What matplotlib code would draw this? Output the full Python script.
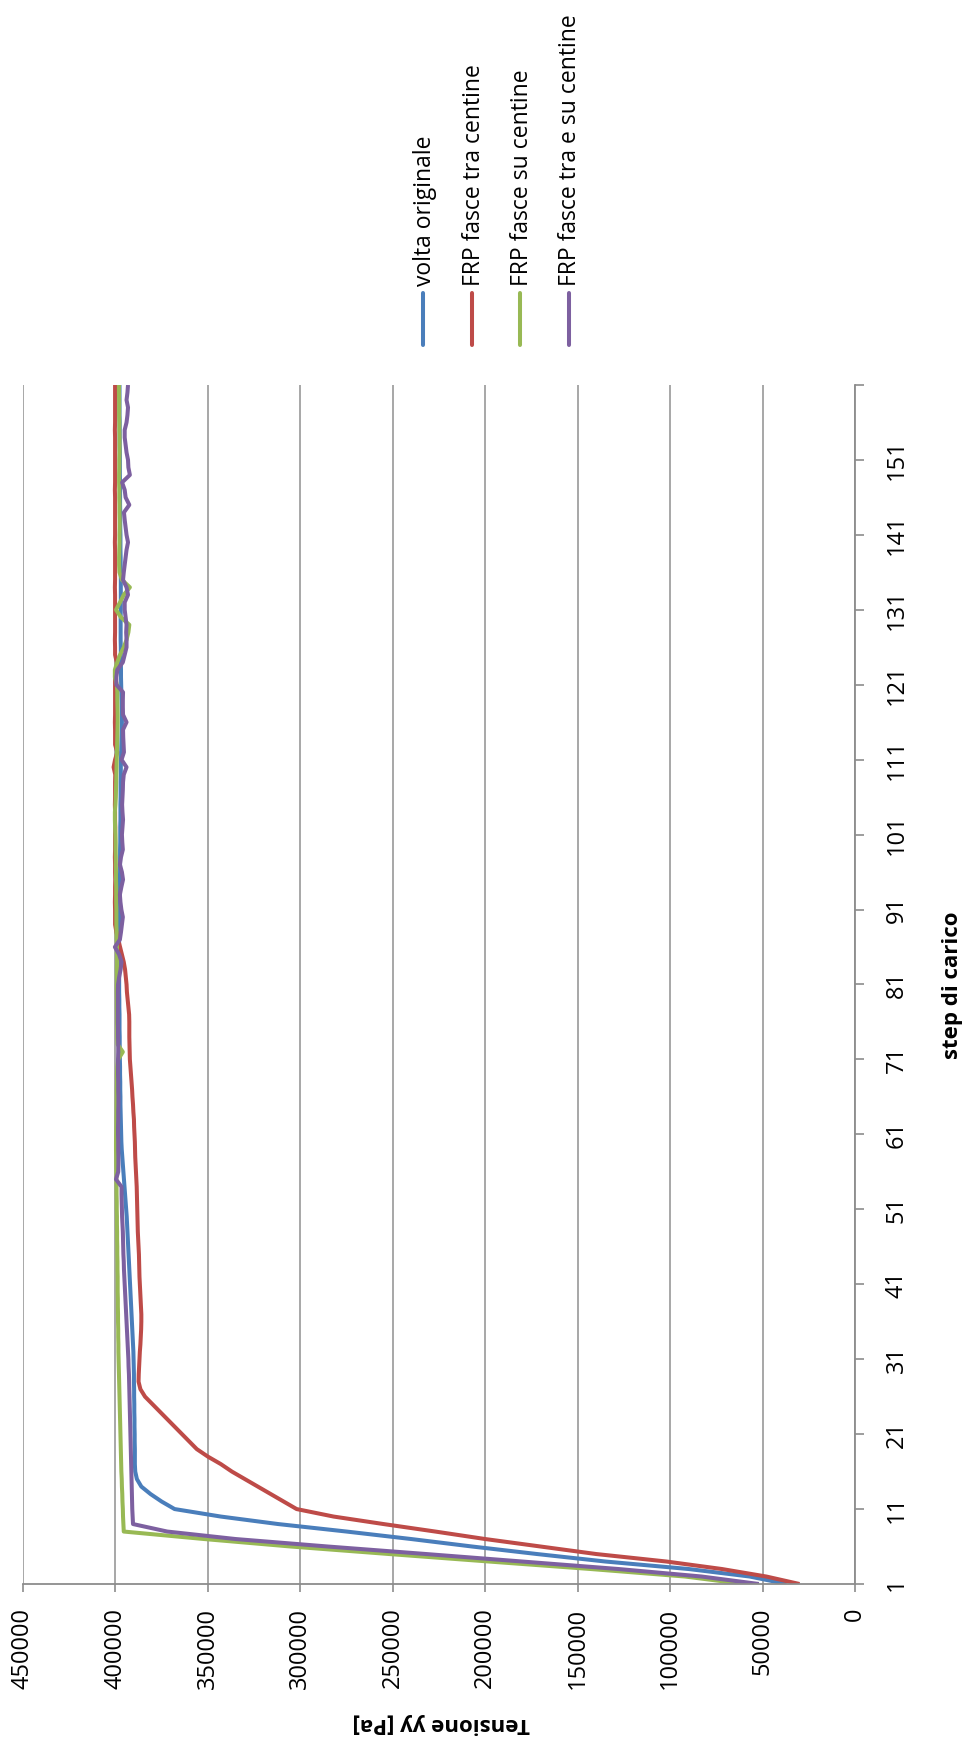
import matplotlib
matplotlib.use("Agg")
import matplotlib.pyplot as plt
from matplotlib.lines import Line2D
from matplotlib.ticker import FixedLocator

plt.rcParams['font.family'] = ['Open Sans', 'DejaVu Sans']

# load steps (categories)
steps = list(range(1, 162))

volta_originale = [
    37000, 57000, 90000, 135000, 172000, 207000, 240000, 275000, 312000, 343000,
    368000, 375000, 381000, 386000, 388400, 389300, 389500, 389500, 389500, 389600,
    389600, 389700, 389700, 389800, 389800, 389900, 389900, 390000, 390000, 390100,
    390200, 390300, 390500, 390700, 390900, 391100, 391300, 391500, 391700, 391900,
    392100, 392300, 392500, 392700, 392900, 393100, 393300, 393500, 393700, 393900,
    394200, 394500, 394800, 395100, 395400, 395700, 396000, 396300, 396600, 396800,
    396900, 397000, 397100, 397200, 397300, 397300, 397400, 397400, 397500, 397500,
    397600, 397600, 397700, 397700, 397800, 397800, 397800, 397900, 397900, 398000,
    398000, 398000, 398000, 398100, 398100, 398100, 398000, 397900, 397800, 397800,
    397700, 397700, 397600, 397600, 397600, 397500, 397500, 397500, 397500, 397400,
    397400, 397400, 397300, 397300, 397300, 397200, 397200, 397200, 397100, 397100,
    397000, 396900, 396800, 396700, 396600, 396500, 396500, 396600, 396700, 396800,
    396900, 397000, 397000, 397100, 397100, 397100, 397200, 397200, 397200, 397200,
    397100, 397100, 397100, 397100, 397100, 397100, 397200, 397200, 397300, 397300,
    397300, 397400, 397400, 397400, 397500, 397500, 397500, 397500, 397600, 397600,
    397600, 397600, 397700, 397700, 397700, 397700, 397800, 397800, 397800, 397800,
    397800,
]

frp_tra_centine = [
    30000, 48000, 72000, 102000, 140000, 170000, 200000, 227000, 255000, 282000,
    302000, 309000, 316000, 323000, 330000, 337000, 343000, 350000, 356000, 360000,
    364000, 368000, 372000, 376000, 380000, 384000, 386500, 387500, 387400, 387200,
    387000, 386800, 386500, 386300, 386100, 386000, 386000, 386200, 386400, 386600,
    386800, 387000, 387100, 387200, 387300, 387500, 387700, 387900, 388000, 388100,
    388200, 388300, 388400, 388500, 388700, 388900, 389100, 389300, 389400, 389500,
    389700, 389900, 390000, 390300, 390500, 390800, 391000, 391300, 391600, 391900,
    392200, 392300, 392400, 392500, 392500, 392500, 392600, 393000, 393400, 393800,
    394000, 394400, 394800, 395500, 396500, 397500, 398500, 399500, 400200, 400200,
    400200, 400300, 400200, 400200, 400100, 400200, 400200, 400300, 400200, 400200,
    400200, 400100, 400200, 400200, 400300, 400200, 400200, 400200, 400100, 401000,
    400200, 399000, 400200, 400200, 400200, 400300, 400200, 400200, 400200, 400200,
    400200, 400200, 399000, 399300, 400200, 400200, 400300, 400200, 400200, 400200,
    400200, 400200, 400200, 400300, 400200, 400200, 400200, 400200, 400200, 400300,
    400200, 400200, 400200, 400200, 400200, 400200, 400300, 400200, 400200, 400200,
    400200, 400200, 400200, 400200, 400300, 400200, 400200, 400200, 400200, 400200,
    400200,
]

frp_su_centine = [
    60000, 92000, 143000, 198000, 252000, 305000, 352000, 395500, 395700, 395900,
    396000, 396200, 396300, 396500, 396600, 396800, 396900, 397000, 397100, 397200,
    397300, 397400, 397500, 397600, 397700, 397800, 397900, 398000, 398100, 398200,
    398300, 398400, 398400, 398500, 398500, 398600, 398600, 398700, 398700, 398800,
    398800, 398800, 398900, 398900, 399000, 399000, 399100, 399100, 399200, 399200,
    399300, 399300, 399400, 399400, 399500, 399500, 399600, 399600, 399700, 399700,
    399600, 399500, 399500, 399400, 399400, 399300, 399300, 399200, 399200, 399000,
    398500, 396000, 398800, 399000, 399000, 399100, 399100, 399200, 399200, 399300,
    399300, 399200, 399200, 399100, 399100, 399200, 399300, 399400, 399500, 399500,
    399500, 399600, 399600, 399600, 399700, 399700, 399800, 399800, 399900, 399900,
    400000, 400200, 400300, 400300, 400000, 399800, 399700, 399600, 399500, 399400,
    399300, 399200, 399100, 399000, 398900, 398800, 398800, 398900, 399000, 399000,
    399200, 400300, 400300, 399000, 397500, 395500, 394000, 393000, 392500, 397000,
    399700, 397500, 395500, 392200, 396500, 397800, 398000, 398000, 397900, 397800,
    397800, 397700, 397700, 397800, 397800, 397900, 397900, 398000, 398000, 397900,
    397900, 397800, 397800, 397800, 397900, 397900, 398000, 398000, 398000, 398100,
    398100,
]

frp_tra_su_centine = [
    52000, 83000, 128000, 180000, 232000, 285000, 335000, 372000, 390500, 390700,
    390900, 391000, 391100, 391200, 391300, 391400, 391500, 391600, 391700, 391800,
    391900, 392000, 392100, 392200, 392300, 392400, 392500, 392600, 392700, 392900,
    393000, 393200, 393400, 393600, 393800, 394000, 394200, 394400, 394600, 394800,
    395000, 395200, 395400, 395500, 395700, 395800, 395900, 396000, 396200, 396400,
    396500, 396600, 396700, 396700, 399700, 398500, 398400, 398400, 398500, 398500,
    398600, 398600, 398500, 398500, 398400, 398400, 398500, 398500, 398600, 398600,
    398600, 398500, 398500, 398600, 398600, 398700, 398700, 398700, 398700, 398700,
    398600, 398000, 397200, 396700, 398000, 400300, 397600, 397000, 396500, 396000,
    396800, 397300, 397600, 396800, 395900, 396500, 397600, 397000, 396000, 396300,
    396500, 396200, 395900, 396200, 396400, 396200, 396000, 395900, 395500, 394000,
    396700, 395400, 395600, 395800, 395900, 394000, 395900, 396000, 396000, 395900,
    399500, 399500, 399000, 396000, 395000, 394000, 394000, 394200, 394000, 394500,
    395000, 395000, 393200, 394000, 395900, 395500, 395000, 394500, 394000, 393200,
    394000, 394500, 395000, 395400, 392500, 394500, 395000, 396400, 392200, 393000,
    393200, 394000, 394500, 395000, 395000, 394000, 393500, 393200, 394000, 393500,
    393200,
]

series = [volta_originale, frp_tra_centine, frp_su_centine, frp_tra_su_centine]
series_names = ["volta originale", "FRP fasce tra centine",
                "FRP fasce su centine", "FRP fasce tra e su centine"]
colors = ["#4A7EBB", "#BE4B48", "#98B954", "#7D60A0"]

value_ticks = list(range(0, 450001, 50000))
step_ticks = list(range(1, 152, 10))

W, H = 964, 1744
fig = plt.figure(figsize=(W / 100, H / 100), dpi=100)
fig.patch.set_facecolor("white")

# plot frame in pixels (left, right, top, bottom)
L, R, T, B = 23, 855, 385, 1584
ax = fig.add_axes([L / W, 1 - B / H, (R - L) / W, (B - T) / H])

for vals, col, name in zip(series, colors, series_names):
    ax.plot(vals, steps, color=col, lw=2.9, solid_joinstyle="round",
            solid_capstyle="butt", label=name)

ax.set_xlim(450000, 0)
ax.set_ylim(1, 161)

grid_col = "#8c8c8c"
ax.set_xticks(value_ticks)
ax.set_xticklabels([str(v) for v in value_ticks], rotation=90, fontsize=17)
ax.grid(axis="x", color="#a0a0a0", lw=1.3)
ax.grid(axis="y", visible=False)
ax.set_axisbelow(True)

ax.yaxis.tick_right()
ax.set_yticks(step_ticks)
ax.set_yticklabels([str(s) for s in step_ticks], rotation=90, va="center",
                   fontsize=17)
ax.yaxis.set_minor_locator(FixedLocator([161]))

ax.tick_params(axis="x", direction="out", length=6, width=1.2,
               color=grid_col, pad=11)
ax.tick_params(axis="y", which="both", direction="out", length=6.5, width=1.2,
               color=grid_col, pad=15)

for side in ("left", "top"):
    ax.spines[side].set_visible(False)
for side in ("bottom", "right"):
    ax.spines[side].set_color(grid_col)
    ax.spines[side].set_linewidth(1.3)

ax.set_xlabel("Tensione yy [Pa]", fontsize=16, fontweight="bold", rotation=180)
ax.xaxis.label.set_va("center")
ax.xaxis.set_label_coords((441 - L) / (R - L), (B - 1723) / (B - T))
ax.set_ylabel("step di carico", fontsize=16, fontweight="bold", rotation=90)
ax.yaxis.set_label_position("right")
ax.yaxis.label.set_va("center")
ax.yaxis.set_label_coords((952 - L) / (R - L), (B - 985) / (B - T))

# legend: vertical entries above the plot
for i, (name, col) in enumerate(zip(series_names, colors)):
    x = 423 + i * 48.5
    fig.add_artist(Line2D([x / W, x / W], [1 - 293 / H, 1 - 345 / H],
                          transform=fig.transFigure, color=col, lw=2.9,
                          solid_capstyle="round"))
    fig.text((x + 2) / W, 1 - 286 / H, name, rotation=90, ha="center",
             va="bottom", fontsize=16.5)

fig.savefig("out.png", dpi=100, facecolor="white")
